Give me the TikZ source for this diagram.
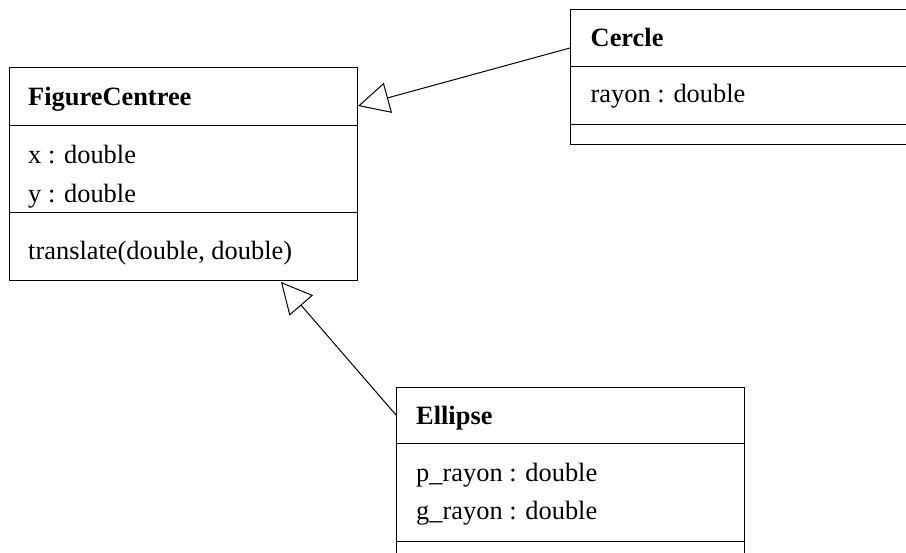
\documentclass[tikz,border=0pt]{standalone}
\usepackage{fontspec}
\setmainfont{Liberation Serif}
\usetikzlibrary{arrows.meta,calc}

\tikzset{
  classbox/.style={draw=black, line width=1pt, fill=white, rectangle, inner sep=0pt, anchor=north west},
  divider/.style={draw=black, line width=1pt},
  member/.style={anchor=base west, inner sep=0pt, font=\fontsize{26.4}{30}\selectfont},
  classname/.style={member, font=\fontsize{26.4}{30}\selectfont\bfseries},
  inherit/.style={draw=black, line width=1pt, -{Triangle[open, length=31pt, width=31pt, fill=white]}},
}

\begin{document}
\begin{tikzpicture}[x=1pt, y=1pt]
  \useasboundingbox (0,0) rectangle (906,-553);
  \clip (0,0) rectangle (906,-553);

  % FigureCentree
  \node[classbox, minimum width=348pt, minimum height=213pt] (fig) at (9,-67) {};
  \draw[divider] (9,-126) -- (357,-126);
  \draw[divider] (9,-213) -- (357,-213);
  \node[classname] (figname) at (28,-105.7) {FigureCentree};
  \node[member] (figx) at (28,-164) {x : double};
  \node[member] (figy) at (28,-202.7) {y : double};
  \node[member] (figop) at (28,-260) {translate(double, double)};

  % Cercle
  \node[classbox, minimum width=400pt, minimum height=135pt] (cercle) at (570,-9) {};
  \draw[divider] (570,-67) -- (970,-67);
  \draw[divider] (570,-125) -- (970,-125);
  \node[classname] (cerclename) at (590.5,-46.7) {Cercle};
  \node[member] (cerclerayon) at (590.5,-103) {rayon : double};

  % Ellipse
  \node[classbox, minimum width=348pt, minimum height=220pt] (ellipse) at (396,-387) {};
  \draw[divider] (396,-444) -- (744,-444);
  \draw[divider] (396,-541) -- (744,-541);
  \node[classname] (ellipsename) at (416,-425) {Ellipse};
  \node[member] (ellipsep) at (416,-481.7) {p\_rayon : double};
  \node[member] (ellipseg) at (416,-520) {g\_rayon : double};

  % generalisation connectors
  \coordinate (cercleout) at ($(cercle.north west)+(0,-39)$);
  \coordinate (figin1) at ($(fig.north east)+(0,-39)$);
  \coordinate (ellipseout) at ($(ellipse.north west)+(0,-28)$);
  \coordinate (figin2) at ($(fig.south west)+(272,-1)$);
  \draw[inherit] (cercleout) -- (figin1);
  \draw[inherit] (ellipseout) -- (figin2);
\end{tikzpicture}
\end{document}
